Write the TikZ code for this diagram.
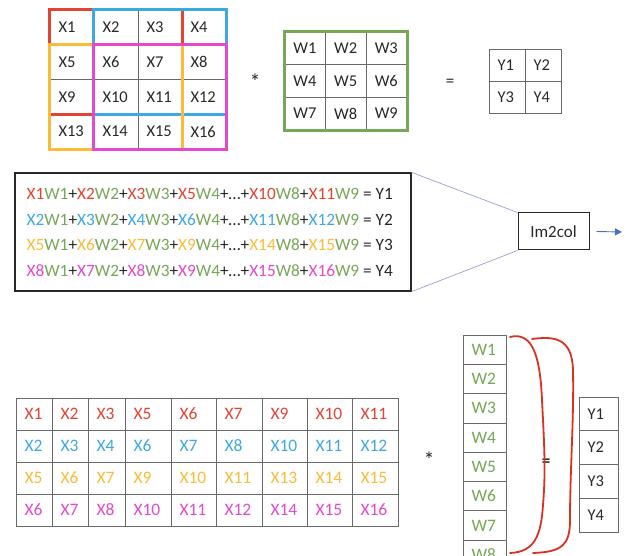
\documentclass[tikz,border=0pt]{standalone}
\usepackage{fontspec}
\setmainfont{Carlito}
\usetikzlibrary{arrows, arrows.meta, positioning}
\tikzset{>=stealth}
\definecolor{xred}{RGB}{226,68,52}
\definecolor{xblue}{RGB}{62,168,226}
\definecolor{xyellow}{RGB}{250,188,56}
\definecolor{xpink}{RGB}{228,72,205}
\definecolor{wgreen}{RGB}{118,166,86}
\definecolor{gridgray}{RGB}{105,105,105}
\definecolor{ink}{RGB}{40,40,40}
\definecolor{linkblue}{RGB}{150,160,210}
\definecolor{arrowblue}{RGB}{70,110,200}
\definecolor{penred}{RGB}{215,50,35}
\newcommand{\xw}[3]{\textcolor{#1}{X#2}\textcolor{wgreen}{W#3}}
\tikzset{
  cell/.style={draw=gridgray, line width=0.7pt, inner xsep=8.5pt, inner ysep=0pt, align=left, text=ink, font=\fontsize{16.5}{16.5}\selectfont},
  xcell/.style={cell, minimum width=44pt, minimum height=34.75pt, text width=27pt},
  wcell/.style={cell, minimum width=40.7pt, minimum height=32.7pt, text width=23.7pt},
  ycell/.style={cell, minimum width=36pt, minimum height=32pt, text width=19pt},
  patch/.style={line width=2.6pt},
  eqline/.style={anchor=west, inner sep=0pt, text=ink, font=\fontsize{17.3}{17.3}\selectfont},
  sign/.style={text=ink, font=\fontsize{17}{17}\selectfont},
  star/.style={text=ink, font=\fontsize{22}{22}\selectfont},
  link/.style={draw=linkblue, line width=0.7pt},
  pen/.style={draw=penred, line width=1.8pt, line cap=round},
}

\begin{document}
\begin{tikzpicture}[x=1pt, y=-1pt]
	\useasboundingbox (0,0) rectangle (632,556);
	\clip (0,0) rectangle (632,556);
	% input grid
	\foreach \r in {0,...,3}
		\foreach \c in {0,...,3} {
			\pgfmathtruncatemacro{\n}{4*\r+\c+1}
			\node (x\n) [xcell] at (72+44*\c, 27.4+34.75*\r) {X\n};
		}
	\draw [patch, xred] (x1.north west) rectangle (x11.south east);
	\draw [patch, xblue] (x2.north west) rectangle (x12.south east);
	\draw [patch, xyellow] (x5.north west) rectangle (x15.south east);
	\draw [patch, xpink] (x6.north west) rectangle (x16.south east);
	\node (star1) [star] at (255,82) {*};
	% kernel
	\foreach \r in {0,...,2}
		\foreach \c in {0,...,2} {
			\pgfmathtruncatemacro{\n}{3*\r+\c+1}
			\node (w\n) [wcell] at (305.3+40.67*\c, 48.3+32.67*\r) {W\n};
		}
	\draw [patch, wgreen] (w1.north west) rectangle (w9.south east);
	\node (eq1) [sign] at (450,83) {=};
	% output
	\foreach \r in {0,1}
		\foreach \c in {0,1} {
			\pgfmathtruncatemacro{\n}{2*\r+\c+1}
			\node (y\n) [ycell] at (507+36*\c, 65+32*\r) {Y\n};
		}
	% sums
	\node (eqbox) [draw=ink, line width=1.2pt, minimum width=396pt, minimum height=118pt] at (213,232) {};
	\node (sum1) [eqline] at ([xshift=12pt, yshift=38.5pt]eqbox.west)
		{\xw{xred}{1}{1}+\xw{xred}{2}{2}+\xw{xred}{3}{3}+\xw{xred}{5}{4}+…+\xw{xred}{10}{8}+\xw{xred}{11}{9} = Y1};
	\node (sum2) [eqline] at ([xshift=12pt, yshift=12.8pt]eqbox.west)
		{\xw{xblue}{2}{1}+\xw{xblue}{3}{2}+\xw{xblue}{4}{3}+\xw{xblue}{6}{4}+…+\xw{xblue}{11}{8}+\xw{xblue}{12}{9} = Y2};
	\node (sum3) [eqline] at ([xshift=12pt, yshift=-12.8pt]eqbox.west)
		{\xw{xyellow}{5}{1}+\xw{xyellow}{6}{2}+\xw{xyellow}{7}{3}+\xw{xyellow}{9}{4}+…+\xw{xyellow}{14}{8}+\xw{xyellow}{15}{9} = Y3};
	\node (sum4) [eqline] at ([xshift=12pt, yshift=-38.5pt]eqbox.west)
		{\xw{xpink}{8}{1}+\xw{xpink}{7}{2}+\xw{xpink}{8}{3}+\xw{xpink}{9}{4}+…+\xw{xpink}{15}{8}+\xw{xpink}{16}{9} = Y4};
	\node (im2col) [draw=ink, line width=1pt, minimum width=71pt, minimum height=37pt, sign] at (553.5,231.5) {Im2col};
	\draw [link] (eqbox.north east) -- (im2col.north west);
	\draw [link] (eqbox.south east) -- (im2col.south west);
	\coordinate (arrowend) at (622,232);
	\draw [-{Triangle[length=7pt, width=7pt]}, arrowblue, line width=0.9pt] ([xshift=7pt]im2col.east) -- (arrowend);
	% unrolled patches
	\def\colL{{16,52,88,125,171,216,262,307,352,398}}
	\foreach \clr/\vals [count=\r] in {xred/{1,2,3,5,6,7,9,10,11}, xblue/{2,3,4,6,7,8,10,11,12},
			xyellow/{5,6,7,9,10,11,13,14,15}, xpink/{6,7,8,10,11,12,14,15,16}}
		\foreach \v [count=\c] in \vals {
			\pgfmathsetmacro{\lft}{\colL[\c-1]}
			\pgfmathsetmacro{\cw}{\colL[\c]-\colL[\c-1]}
			\pgfmathsetmacro{\tw}{\cw-17}
			\node (b\r-\c) [cell, minimum width=\cw pt, minimum height=32pt, text width=\tw pt, text=\clr,
				font=\fontsize{17.5}{17.5}\selectfont] at (\lft+\cw/2, 382+32*\r) {X\v};
		}
	\node (star2) [star] at (429,460) {*};
	% unrolled kernel
	\foreach \k in {1,...,8}
		\node (wc\k) [cell, minimum width=43pt, minimum height=29.3pt, text width=26pt, text=wgreen,
			font=\fontsize{17.5}{17.5}\selectfont] at (484.5, 320.3+29.3*\k) {W\k};
	\node (eq2) [sign, font=\bfseries\fontsize{17}{17}\selectfont] at (546,463) {=};
	\foreach \k in {1,...,4}
		\node (yc\k) [cell, minimum width=39pt, minimum height=33.75pt, text width=22pt] at (598.5, 380.1+33.75*\k) {Y\k};
	% hand drawn braces
	\draw [pen] (510,337) .. controls (530,332) and (540,350) .. (542,400)
		.. controls (544,440) and (546,470) .. (543,505)
		.. controls (541,535) and (535,552) .. (510,553);
	\draw [pen] (532,339) .. controls (555,336) and (572,338) .. (573,370)
		.. controls (574,420) and (570,470) .. (570,520)
		.. controls (570,545) and (562,552) .. (533,553);
\end{tikzpicture}
\end{document}
